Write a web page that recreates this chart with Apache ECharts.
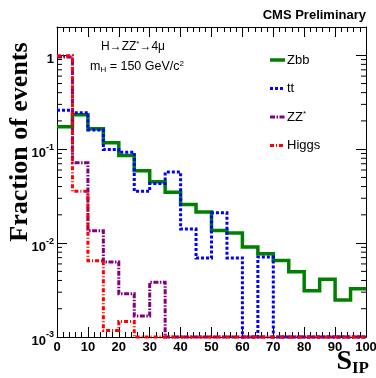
<!DOCTYPE html>
<html>
<head>
<meta charset="utf-8">
<script src="https://cdn.jsdelivr.net/npm/echarts@6/dist/echarts.min.js"></script>
<style>
  html, body { margin: 0; padding: 0; background: #fff; }
  #chart { width: 376px; height: 378px; }
</style>
</head>
<body>
<div id="chart"></div>
<script>
// bin edges of the S_IP histograms (20 bins of width 5)
const BIN_EDGES = [0, 5, 10, 15, 20, 25, 30, 35, 40, 45, 50, 55, 60, 65, 70, 75, 80, 85, 90, 95, 100];

// fraction of events per bin (0 = empty bin)
const zbb   = [0.173, 0.232, 0.165, 0.117, 0.0856, 0.059, 0.045, 0.0347, 0.0257, 0.0214,
               0.0136, 0.0128, 0.0091, 0.0077, 0.00653, 0.00494, 0.0031, 0.00413, 0.00248, 0.00326];
const ttbar = [0.259, 0.245, 0.16, 0.099, 0.093, 0.0356, 0.043, 0.057, 0.0141, 0.00695,
               0.021, 0.00695, 0, 0.0071, 0, 0, 0, 0, 0, 0];
const zzst  = [0.96, 0.0715, 0.0135, 0.0063, 0.00288, 0.00167, 0.00384, 0, 0, 0,
               0, 0, 0, 0, 0, 0, 0, 0, 0, 0];
const higgs = [0.99, 0.0356, 0.0065, 0.00117, 0.00146, 0, 0, 0, 0, 0,
               0, 0, 0, 0, 0, 0, 0, 0, 0, 0];

const X_TICKS = [0, 10, 20, 30, 40, 50, 60, 70, 80, 90, 100];
const Y_MIN = 1e-3, Y_MAX = 2;

const SANS = '"Liberation Sans", Arial, Helvetica, sans-serif';
const SERIF = '"Liberation Serif", "Times New Roman", serif';

const STYLES = {
  Zbb:   { color: '#008000', width: 3.5, type: 'solid' },
  tt:    { color: '#0000ff', width: 3,   type: [3, 2] },
  ZZ:    { color: '#800080', width: 3,   type: [5, 1.5, 1.5, 1.5] },
  Higgs: { color: '#ff0000', width: 3,   type: [4, 2, 1, 2] },
};

/** step points for a histogram; empty bins sit on the frame floor like ROOT draws them */
function histPoints(vals) {
  const pts = vals.map((v, i) => [BIN_EDGES[i], Math.max(v, Y_MIN)]);
  pts.push([BIN_EDGES[vals.length], Math.max(vals[vals.length - 1], Y_MIN)]);
  return pts;
}

function histSeries(name, vals) {
  const s = STYLES[name];
  return {
    name, type: 'line', step: 'end', data: histPoints(vals),
    showSymbol: false, clip: false, silent: true, animation: false,
    lineStyle: { color: s.color, width: s.width, type: s.type, cap: 'butt', join: 'miter' },
  };
}

// log-axis minor ticks (2..9 x 10^k)
const minorY = [];
for (let k = -3; k < 0; k++) for (let m = 2; m <= 9; m++) minorY.push([0, m * Math.pow(10, k)]);

function yLabel(v) {
  const e = Math.log10(v);
  if (Math.abs(e - Math.round(e)) > 1e-6) return '';
  if (Math.round(e) === 0) return '{b|1}';
  return '{b|10}{s|' + Math.round(e) + '}';
}

const xAxisBase = {
  type: 'value', min: 0, max: 100, interval: 10,
  axisLine: { show: true, onZero: false, lineStyle: { color: '#000', width: 1 } },
  axisTick: { show: true, inside: true, length: 10, lineStyle: { color: '#000' } },
  minorTick: { show: true, splitNumber: 5, length: 5, lineStyle: { color: '#000' } },
  splitLine: { show: false },
};
const yAxisBase = {
  type: 'log', logBase: 10, min: Y_MIN, max: Y_MAX,
  axisLine: { show: true, onZero: false, lineStyle: { color: '#000', width: 1 } },
  axisTick: { show: true, inside: true, length: 10, lineStyle: { color: '#000' } },
  splitLine: { show: false },
};

const chart = echarts.init(document.getElementById('chart'), null, { renderer: 'canvas' });

const legendItems = [['Zbb', 'Zbb'], ['tt', 'tt'], ['ZZ', 'ZZ{sup|*}'], ['Higgs', 'Higgs']];
const legendGraphics = [];
legendItems.forEach(([key, label], i) => {
  const y = 60 + i * 28.5;
  const s = STYLES[key];
  legendGraphics.push({
    type: 'line', silent: true,
    shape: { x1: 270, y1: y, x2: 285, y2: y },
    style: { stroke: s.color, lineWidth: s.width, lineDash: s.type === 'solid' ? null : s.type },
  });
  legendGraphics.push({
    type: 'text', silent: true, x: 287, y: y,
    style: {
      text: label, fill: '#000', font: '13px ' + SANS, verticalAlign: 'middle',
      rich: { sup: { fontSize: 8, fontFamily: SANS, verticalAlign: 'top', padding: [0, 0, 6, 0] } },
    },
  });
});

chart.setOption({
  backgroundColor: '#fff',
  animation: false,
  grid: { left: 57, right: 10, top: 27, bottom: 41, outerBoundsMode: 'none' },
  xAxis: [
    Object.assign({}, xAxisBase, {
      position: 'bottom',
      axisLabel: { show: true, color: '#000', fontSize: 13, fontWeight: 'bold', fontFamily: SANS, margin: 4,
                   customValues: X_TICKS },
    }),
    Object.assign({}, xAxisBase, { position: 'top', axisLabel: { show: false } }),
  ],
  yAxis: [
    Object.assign({}, yAxisBase, {
      position: 'left',
      axisLabel: {
        show: true, margin: 3, formatter: yLabel, showMaxLabel: false,
        rich: {
          b: { fontSize: 13, fontWeight: 'bold', fontFamily: SANS, color: '#000', padding: [8, 0, 0, 0] },
          s: { fontSize: 9, fontWeight: 'bold', fontFamily: SANS, color: '#000', padding: [0, 0, 4, 0] },
        },
      },
    }),
    Object.assign({}, yAxisBase, { position: 'right', axisLabel: { show: false } }),
  ],
  series: [
    histSeries('Zbb', zbb),
    histSeries('tt', ttbar),
    histSeries('ZZ', zzst),
    histSeries('Higgs', higgs),
    {
      type: 'custom', silent: true, data: minorY, clip: false,
      renderItem(params, api) {
        const l = api.coord([0, api.value(1)]);
        const r = api.coord([100, api.value(1)]);
        return {
          type: 'group', children: [
            { type: 'line', shape: { x1: l[0], y1: l[1], x2: l[0] + 5, y2: l[1] }, style: { stroke: '#000', lineWidth: 1 } },
            { type: 'line', shape: { x1: r[0] - 5, y1: r[1], x2: r[0], y2: r[1] }, style: { stroke: '#000', lineWidth: 1 } },
          ],
        };
      },
    },
  ],
  graphic: [
    { type: 'text', silent: true, x: 366, y: 15,
      style: { text: 'CMS Preliminary', fill: '#000', font: 'bold 13px ' + SANS, align: 'right', verticalAlign: 'middle' } },
    { type: 'text', silent: true, x: 101, y: 47,
      style: { text: 'H→ZZ{sup|*}→4μ', fill: '#000', font: '12px ' + SANS, verticalAlign: 'middle',
               rich: { sup: { fontSize: 8, fontFamily: SANS, verticalAlign: 'top', padding: [0, 0, 6, 0] } } } },
    { type: 'text', silent: true, x: 90, y: 67,
      style: { text: 'm{sub|H} = 150 GeV/c{sup|2}', fill: '#000', font: '12.5px ' + SANS, verticalAlign: 'middle',
               rich: {
                 sub: { fontSize: 8, fontFamily: SANS, padding: [6, 0, 0, 0] },
                 sup: { fontSize: 8, fontFamily: SANS, padding: [0, 0, 6, 0] },
               } } },
    { type: 'text', silent: true, x: 20, y: 142, rotation: Math.PI / 2,
      style: { text: 'Fraction of events', fill: '#000', font: 'bold 26px ' + SERIF, align: 'center', verticalAlign: 'middle' } },
    { type: 'text', silent: true, x: 352, y: 362,
      style: { text: 'S', fill: '#000', font: 'bold 28px ' + SERIF, align: 'right', verticalAlign: 'middle' } },
    { type: 'text', silent: true, x: 352, y: 369,
      style: { text: 'IP', fill: '#000', font: 'bold 17px ' + SERIF, align: 'left', verticalAlign: 'middle' } },
  ].concat(legendGraphics),
});
</script>
</body>
</html>
